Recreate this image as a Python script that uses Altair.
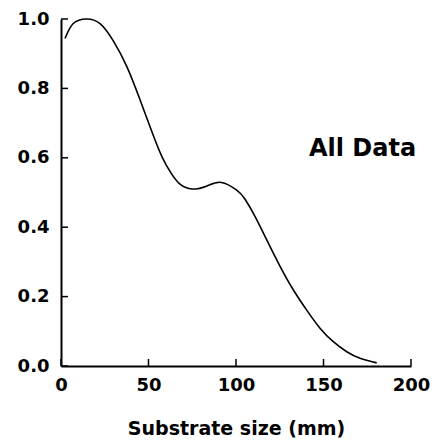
import altair as alt
import pandas as pd

# curve
size_mm = [2.3, 7, 14.5, 22.3, 29.9, 37.5, 45.1, 52.7, 58, 63, 68, 74.9, 83.4, 91.6, 100.4, 105, 111, 117.5, 125.1, 132.8, 140.4, 148, 155.6, 163.3, 170.9, 180.4]
value = [0.944, 0.987, 1.0, 0.987, 0.937, 0.864, 0.768, 0.665, 0.600, 0.555, 0.524, 0.510, 0.519, 0.529, 0.507, 0.482, 0.430, 0.364, 0.288, 0.219, 0.161, 0.109, 0.070, 0.041, 0.022, 0.009]

x_ticks = [0, 50, 100, 150, 200]
y_ticks = [0.0, 0.2, 0.4, 0.6, 0.8, 1.0]
label_text = ["All Data"]
label_x = [172.3]
label_y = [0.626]

W, H = 350, 347
FONT = "DejaVu Sans"

curve = pd.DataFrame({"x": size_mm, "y": value})
xt = pd.DataFrame({"x": x_ticks})
yt = pd.DataFrame({"y": y_ticks})
lab = pd.DataFrame({"t": label_text, "x": label_x, "y": label_y})

xscale = alt.Scale(domain=[0, 200], nice=False, zero=False)
yscale = alt.Scale(domain=[0, 1], nice=False, zero=False)

xaxis = alt.Axis(values=x_ticks, tickSize=0, labelPadding=10, format="d",
                 titlePadding=25,
                 labelFont=FONT, labelFontSize=18, labelFontWeight="bold",
                 titleFont=FONT, titleFontSize=19, titleFontWeight="bold",
                 labelColor="black", titleColor="black",
                 domainColor="black", domainWidth=2, grid=False, labelFlush=False)
yaxis = alt.Axis(values=y_ticks, tickSize=0, labelPadding=12, format=".1f",
                 labelFont=FONT, labelFontSize=18, labelFontWeight="bold",
                 labelColor="black", domainColor="black", domainWidth=2,
                 grid=False, labelFlush=False)

line = alt.Chart(curve).mark_line(color="black", strokeWidth=1.6, interpolate="natural").encode(
    x=alt.X("x:Q", scale=xscale, axis=xaxis, title="Substrate size (mm)"),
    y=alt.Y("y:Q", scale=yscale, axis=yaxis, title=None),
)

xtick_marks = alt.Chart(xt).mark_rule(color="black", strokeWidth=1.5).encode(
    x=alt.X("x:Q", scale=xscale),
    y=alt.value(H),
    y2=alt.value(H - 7),
)

ytick_marks = alt.Chart(yt).mark_rule(color="black", strokeWidth=1.5).encode(
    y=alt.Y("y:Q", scale=yscale),
    x=alt.value(0),
    x2=alt.value(7),
)

text = alt.Chart(lab).mark_text(font=FONT, fontSize=24, fontWeight="bold",
                                color="black", align="center", baseline="middle").encode(
    x=alt.X("x:Q", scale=xscale),
    y=alt.Y("y:Q", scale=yscale),
    text="t:N",
)

chart = alt.layer(line, xtick_marks, ytick_marks, text).properties(
    width=W, height=H,
    autosize=alt.AutoSizeParams(type="none"),
    padding={"left": 61, "top": 19, "right": 28, "bottom": 80},
    background="white",
).configure_view(stroke=None)

chart.save("out.html", embed_options={"renderer": "svg", "actions": False})
